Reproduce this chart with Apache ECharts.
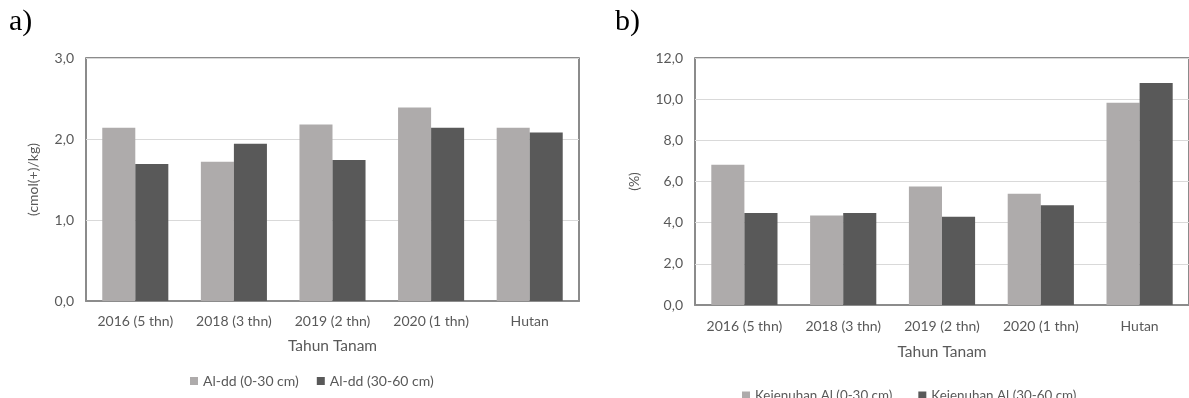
<!DOCTYPE html>
<html>
<head>
<meta charset="utf-8">
<script src="https://cdn.jsdelivr.net/npm/echarts@6/dist/echarts.min.js"></script>
<style>
html,body{margin:0;padding:0;background:#fff;}
#c{width:1189px;height:398px;}
</style>
</head>
<body>
<div id="c"></div>
<script>
const categories = ['2016 (5 thn)', '2018 (3 thn)', '2019 (2 thn)', '2020 (1 thn)', 'Hutan'];
const alddTop = [2.14, 1.72, 2.18, 2.39, 2.14];
const alddSub = [1.69, 1.94, 1.74, 2.14, 2.08];
const kejTop = [6.81, 4.35, 5.76, 5.40, 9.83];
const kejSub = [4.47, 4.47, 4.29, 4.85, 10.79];
const seriesNamesA = ['Al-dd (0-30 cm)', 'Al-dd (30-60 cm)'];
const seriesNamesB = ['Keienuhan Al (0-30 cm)', 'Keienuhan Al (30-60 cm)'];
const xTitle = 'Tahun Tanam';
const yTitleA = '(cmol(+)/kg)';
const yTitleB = '(%)';

const LIGHT = '#aeabab';
const DARK = '#595959';
const TXT = '#595959';
const FONT = 'Lato';

const fmt = v => v.toFixed(1).replace('.', ',');

function xAxis(gi, labelMargin, nameGap) {
  return {
    type: 'category', gridIndex: gi, data: categories,
    axisLine: {show: true, lineStyle: {color: '#8c8c8c', width: 2}},
    axisTick: {show: false},
    axisLabel: {color: TXT, fontFamily: FONT, fontSize: 14, margin: labelMargin, interval: 0},
    name: xTitle, nameLocation: 'middle', nameGap: nameGap,
    nameTextStyle: {color: TXT, fontFamily: FONT, fontSize: 15.5}
  };
}
function yAxis(gi, max, interval, name, nameGap) {
  return {
    type: 'value', gridIndex: gi, min: 0, max: max, interval: interval,
    axisLine: {show: false}, axisTick: {show: false},
    splitLine: {show: true, lineStyle: {color: '#d9d9d9', width: 1}},
    axisLabel: {color: TXT, fontFamily: FONT, fontSize: 14, margin: 12, formatter: fmt},
    name: name, nameLocation: 'middle', nameGap: nameGap, nameRotate: 90,
    nameTextStyle: {color: TXT, fontFamily: FONT, fontSize: 14}
  };
}
function bar(name, data, color, gi) {
  return {
    name: name, type: 'bar', xAxisIndex: gi, yAxisIndex: gi, data: data,
    barGap: '0%', barCategoryGap: '33%',
    itemStyle: {color: color}, silent: true
  };
}

const chart = echarts.init(document.getElementById('c'), null, {renderer: 'canvas'});
chart.setOption({
  animation: false,
  backgroundColor: '#fff',
  title: [
    {text: 'a)', left: 4, top: 2, textStyle: {fontFamily: 'Liberation Serif', fontSize: 30, fontWeight: 'normal', color: '#000'}},
    {text: 'b)', left: 610, top: 2, textStyle: {fontFamily: 'Liberation Serif', fontSize: 30, fontWeight: 'normal', color: '#000'}}
  ],
  grid: [
    {left: 86, top: 58, width: 493, height: 243, show: true, borderColor: '#666666', borderWidth: 1.5, containLabel: false},
    {left: 695, top: 58, width: 494, height: 247, show: true, borderColor: '#666666', borderWidth: 1.5, containLabel: false}
  ],
  legend: [
    {data: seriesNamesA, left: 185, top: 369, itemWidth: 8, itemHeight: 8, itemGap: 18, icon: 'rect',
     textStyle: {color: TXT, fontFamily: FONT, fontSize: 14}},
    {data: seriesNamesB, left: 737, top: 384, itemWidth: 8, itemHeight: 8, itemGap: 26, icon: 'rect',
     textStyle: {color: TXT, fontFamily: FONT, fontSize: 13.4}}
  ],
  xAxis: [xAxis(0, 13, 37), xAxis(1, 14, 39)],
  yAxis: [yAxis(0, 3, 1, yTitleA, 46), yAxis(1, 12, 2, yTitleB, 54)],
  series: [
    bar(seriesNamesA[0], alddTop, LIGHT, 0),
    bar(seriesNamesA[1], alddSub, DARK, 0),
    bar(seriesNamesB[0], kejTop, LIGHT, 1),
    bar(seriesNamesB[1], kejSub, DARK, 1)
  ]
});
</script>
</body>
</html>
